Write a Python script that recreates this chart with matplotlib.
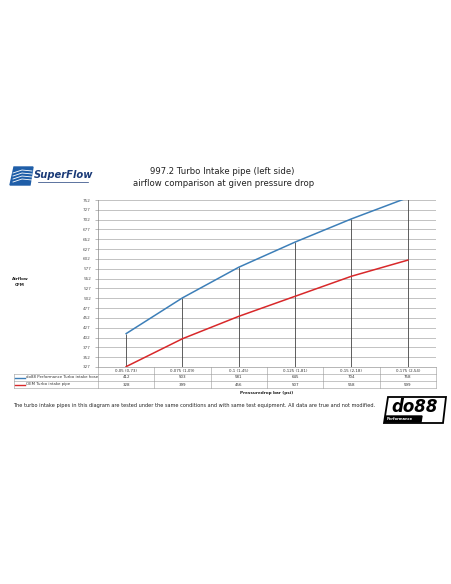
import matplotlib
matplotlib.use("Agg")
import matplotlib.pyplot as plt
from matplotlib.patches import Polygon
import matplotlib.transforms as mtransforms

categories = ["0,05 (0,73)", "0,075 (1,09)", "0,1 (1,45)", "0,125 (1,81)", "0,15 (2,18)", "0,175 (2,54)"]
do88_values = [412, 503, 581, 645, 704, 758]
oem_values = [328, 399, 456, 507, 558, 599]
series_names = ["do88 Performance Turbo intake hose", "OEM Turbo intake pipe"]
y_ticks = [327, 352, 377, 402, 427, 452, 477, 502, 527, 552, 577, 602, 627, 652, 677, 702, 727, 752]

BLUE = "#3d7fb8"
RED = "#d8282a"
GRID = "#b8b8b8"
TXT = "#333333"

W, H = 452, 584
fig = plt.figure(figsize=(W / 100, H / 100), dpi=100)
fig.patch.set_facecolor("white")

def fx(px):
    return px / W

def fy(py):
    return 1 - py / H

ax_l, ax_r, ax_t, ax_b = 98, 436, 200, 367
ax = fig.add_axes([fx(ax_l), fy(ax_b), fx(ax_r - ax_l), (ax_b - ax_t) / H])
x = list(range(len(categories)))
ax.set_xlim(-0.5, len(categories) - 0.5)
ax.set_ylim(y_ticks[0], y_ticks[-1])
ax.set_yticks(y_ticks)
ax.set_yticklabels([str(t) for t in y_ticks], fontsize=3.0, color="#555555")
ax.set_xticks([])
ax.tick_params(axis="y", length=2, width=0.4, color="#888888", pad=3)
for t in y_ticks:
    ax.axhline(t, color=GRID, lw=0.6, zorder=0)
for s in ["top", "right"]:
    ax.spines[s].set_visible(False)
ax.spines["left"].set_color("#888888")
ax.spines["left"].set_linewidth(0.5)
ax.spines["bottom"].set_color("#999999")
ax.spines["bottom"].set_linewidth(0.5)

# drop lines
ax.vlines(x, y_ticks[0], do88_values, color="#444444", lw=0.6, zorder=1)
ax.plot(x, do88_values, color=BLUE, lw=1.1, zorder=3)
ax.plot(x, oem_values, color=RED, lw=1.1, zorder=3)

# data table below the axes
trans = mtransforms.blended_transform_factory(ax.transData, ax.transAxes)
px_per_ax = ax_b - ax_t
row_h = 7.0 / px_per_ax
unit_px = (ax_r - ax_l) / len(categories)
leg_left = -0.5 - (ax_l - 14) / unit_px
lc = "#999999"
for k in range(len(categories) + 1):
    ax.plot([k - 0.5, k - 0.5], [0, -3 * row_h], transform=trans, color=lc, lw=0.4, clip_on=False)
ax.plot([leg_left, leg_left], [-row_h, -3 * row_h], transform=trans, color=lc, lw=0.4, clip_on=False)
for r in (1, 2, 3):
    ax.plot([leg_left, len(categories) - 0.5], [-r * row_h, -r * row_h], transform=trans,
            color=lc, lw=0.4, clip_on=False)
for i, c in enumerate(categories):
    ax.text(i, -0.5 * row_h, c, transform=trans, ha="center", va="center", fontsize=2.9, color=TXT)
    ax.text(i, -1.5 * row_h, str(do88_values[i]), transform=trans, ha="center", va="center",
            fontsize=2.9, color=TXT)
    ax.text(i, -2.5 * row_h, str(oem_values[i]), transform=trans, ha="center", va="center",
            fontsize=2.9, color=TXT)
for r, (name, col) in enumerate(zip(series_names, [BLUE, RED])):
    yy = -(1.5 + r) * row_h
    ax.plot([leg_left + 0.02, leg_left + 0.2], [yy, yy], transform=trans, color=col, lw=1.0, clip_on=False)
    ax.text(leg_left + 0.22, yy, name, transform=trans, ha="left", va="center", fontsize=2.8, color=TXT)

# titles and labels
fig.text(fx(222), fy(171), "997.2 Turbo Intake pipe (left side)", ha="center", va="center",
         fontsize=6.1, color="#222222")
fig.text(fx(224), fy(184), "airflow comparison at given pressure drop", ha="center", va="center",
         fontsize=6.1, color="#222222")
fig.text(fx(20), fy(282), "Airflow\nCFM", ha="center", va="center", fontsize=3.0,
         fontweight="bold", color="#222222", linespacing=1.4)
fig.text(fx(267), fy(393), "Pressuredrop bar (psi)", ha="center", va="center", fontsize=3.0,
         fontweight="bold", color="#222222")
fig.text(fx(13), fy(405),
         "The turbo intake pipes in this diagram are tested under the same conditions and with same test equipment. All data are true and not modified.",
         ha="left", va="center", fontsize=3.6, color="#222222")

# SuperFlow logo (approximation)
logo = fig.add_axes([0, 0, 1, 1], facecolor="none")
logo.set_xlim(0, W)
logo.set_ylim(H, 0)
logo.axis("off")
logo.add_patch(Polygon([[14, 167], [33, 167], [30, 185], [10, 185]], closed=True, color="#1f5ea8"))
for dy in (171, 174, 177, 180):
    logo.plot([13, 22, 32], [dy + 2, dy - 1, dy], color="white", lw=0.6)
logo.text(34, 175, "SuperFlow", fontsize=7.2, fontweight="bold", style="italic", color="#1b3b78",
          va="center", ha="left")
logo.plot([38, 88], [181.5, 181.5], color="#1b3b78", lw=0.5)

# do88 logo (approximation)
logo.add_patch(Polygon([[388, 397], [446, 397], [443, 423], [384, 423]], closed=True,
                       facecolor="white", edgecolor="black", lw=1.3))
logo.text(415, 407, "do88", fontsize=12, fontweight="bold", style="italic", color="black",
          va="center", ha="center")
logo.add_patch(Polygon([[386, 416], [422, 416], [421, 422], [385, 422]], closed=True, color="black"))
logo.text(387, 419.2, "Performance", fontsize=2.6, fontweight="bold", color="white", va="center", ha="left")

fig.savefig("out.png", dpi=100, facecolor="white")
